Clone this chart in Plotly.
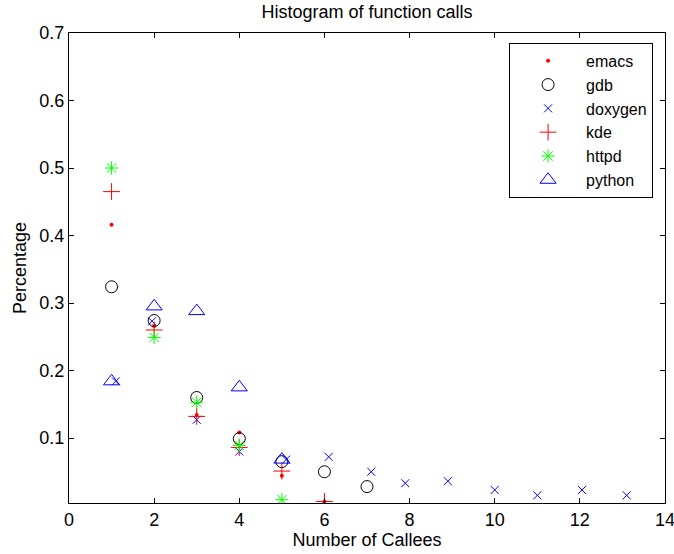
import plotly.graph_objects as go

# ---- data ----
emacs_x = [1, 2, 3, 4, 5, 6]
emacs_y = [0.416, 0.266, 0.134, 0.108, 0.044, 0.006]

gdb_x = [1, 2, 3, 4, 5, 6, 7]
gdb_y = [0.324, 0.274, 0.160, 0.099, 0.065, 0.050, 0.028]

doxygen_x = [1.1, 1.95, 3, 4, 5.1, 6.1, 7.1, 7.9, 8.9, 10, 11, 12.05, 13.1]
doxygen_y = [0.184, 0.273, 0.127, 0.080, 0.068, 0.072, 0.050, 0.033, 0.036, 0.023, 0.015, 0.023, 0.015]

kde_x = [1, 2, 3, 4, 5, 6]
kde_y = [0.465, 0.260, 0.132, 0.086, 0.051, 0.006]

httpd_x = [1, 2, 3, 4, 5]
httpd_y = [0.500, 0.249, 0.153, 0.089, 0.0086]

python_x = [1, 2, 3, 4, 5]
python_y = [0.184, 0.295, 0.288, 0.175, 0.068]

x_ticks = [0, 2, 4, 6, 8, 10, 12, 14]
y_ticks = [0.1, 0.2, 0.3, 0.4, 0.5, 0.6, 0.7]
y_tick_labels = ["0.1", "0.2", "0.3", "0.4", "0.5", "0.6", "0.7"]

FONT = "Liberation Sans, Arial, Helvetica, sans-serif"
FS = 18

series = [
    ("emacs", emacs_x, emacs_y, dict(symbol="circle", size=4, color="#ff0000")),
    ("gdb", gdb_x, gdb_y, dict(symbol="circle-open", size=12, color="#000000", line=dict(width=1, color="#000000"))),
    ("doxygen", doxygen_x, doxygen_y, dict(symbol="x-thin-open", size=8, color="#0000ff", line=dict(width=1, color="#0000ff"))),
    ("kde", kde_x, kde_y, dict(symbol="cross-thin-open", size=12, color="#ff0000", line=dict(width=1, color="#ff0000"))),
    ("httpd", httpd_x, httpd_y, dict(symbol="asterisk-open", size=11, color="#00ff00", line=dict(width=1, color="#00ff00"))),
    ("python", python_x, python_y, dict(symbol="triangle-up-open", size=14, color="#0000ff", line=dict(width=1, color="#0000ff"))),
]

fig = go.Figure()
for name, xs, ys, mk in series:
    fig.add_trace(go.Scatter(x=xs, y=ys, mode="markers", name=name, marker=mk))

axis_common = dict(
    showline=True, linecolor="black", linewidth=1, mirror="ticks",
    ticks="inside", ticklen=5, tickcolor="black", tickwidth=1,
    showgrid=False, zeroline=False, automargin=False,
    tickfont=dict(family=FONT, size=FS, color="black"),
)

fig.update_layout(
    width=674, height=554,
    paper_bgcolor="white", plot_bgcolor="white",
    margin=dict(l=69, r=9, t=33, b=51, autoexpand=False),
    font=dict(family=FONT, size=FS, color="black"),
    title=dict(text="Histogram of function calls", x=0.5, xref="paper", y=1 - 12 / 554,
               yanchor="middle", xanchor="center", font=dict(family=FONT, size=FS, color="black")),
    xaxis=dict(range=[0, 14], tickvals=x_ticks, ticktext=[str(v) for v in x_ticks],
               ticklabeloverflow="allow",
               title=dict(text="Number of Callees", standoff=0, font=dict(size=FS)), **axis_common),
    yaxis=dict(range=[0.0037, 0.7], tickvals=y_ticks, ticktext=y_tick_labels,
               title=dict(text="Percentage", standoff=8, font=dict(size=FS)), **axis_common),
    legend=dict(x=0.98, y=0.979, xanchor="right", yanchor="top",
                bordercolor="black", borderwidth=1, bgcolor="white",
                font=dict(family=FONT, size=16, color="black"),
                tracegroupgap=0, itemsizing="trace", itemwidth=66),
    showlegend=True,
)

fig.write_html("out.html", config={"displayModeBar": False},
               post_script="document.body.style.margin='0';document.body.style.padding='0';")
